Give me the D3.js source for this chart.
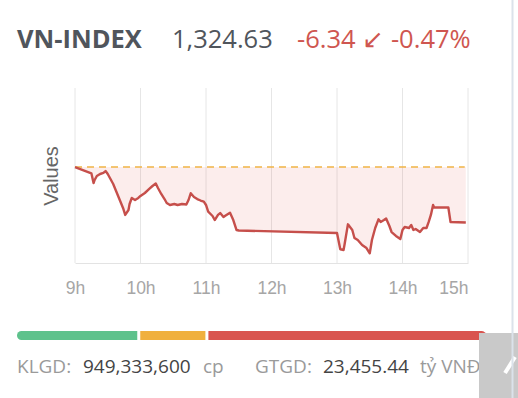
<!DOCTYPE html>
<html><head><meta charset="utf-8">
<script src="https://cdn.jsdelivr.net/npm/d3@7"></script>
<style>
html,body{margin:0;padding:0;background:#fff;overflow:hidden;}
svg{display:block;}
</style></head>
<body>
<svg id="c" width="518" height="398"></svg>
<script>
// ---- data ----
const indexName = "VN-INDEX";
const lastValue = 1324.63;
const changeText = "-6.34 \u2199 -0.47%";
const referenceValue = 1330.97;
const times = ["09:00","09:15","09:17","09:18","09:20","09:23","09:26","09:28","09:30","09:32","09:35","09:38","09:41","09:44","09:46","09:49","09:50","09:52","09:55","09:58","10:00","10:04","10:08","10:11","10:14","10:16","10:19","10:22","10:24","10:27","10:31","10:34","10:38","10:42","10:44","10:46","10:49","10:52","10:55","10:58","11:00","11:02","11:06","11:08","11:11","11:13","11:16","11:18","11:22","11:25","11:28","11:30","13:00","13:03","13:06","13:07","13:10","13:14","13:16","13:19","13:23","13:27","13:30","13:32","13:35","13:38","13:40","13:43","13:45","13:48","13:50","13:54","13:58","14:00","14:02","14:06","14:08","14:10","14:12","14:16","14:19","14:22","14:24","14:26","14:28","14:29","14:42","14:44","14:58"];
const values = [1330.97,1330.25,1329.14,1329.49,1329.94,1330.17,1330.29,1330.51,1330.17,1329.71,1329.03,1328.11,1327.20,1326.29,1325.49,1326.06,1326.74,1327.43,1327.20,1327.43,1327.66,1328.00,1328.46,1328.80,1329.09,1328.57,1327.89,1327.31,1326.86,1326.63,1326.74,1326.63,1326.74,1326.69,1327.20,1327.97,1327.54,1327.31,1327.14,1327.01,1326.63,1325.86,1325.37,1324.91,1325.49,1325.71,1325.26,1325.43,1325.75,1324.91,1323.77,1323.71,1323.43,1321.57,1321.49,1322.17,1324.42,1323.77,1322.86,1322.63,1322.06,1321.71,1321.11,1322.63,1324.00,1324.99,1324.69,1324.91,1325.09,1324.23,1323.54,1323.09,1322.74,1323.77,1324.11,1324.00,1324.34,1323.77,1323.89,1323.54,1324.00,1324.00,1324.69,1325.49,1326.63,1326.34,1326.34,1324.69,1324.63];
const hourTicks = [9,10,11,12,13,14,15];
const yAxisTitle = "Values";
const breadthLabels = ["up","unchanged","down"];
const breadthCounts = [120,65,277];
const volumeLabel = "KLGD:", volumeValue = "949,333,600", volumeUnit = "cp";
const valueLabel = "GTGD:", valueValue = "23,455.44", valueUnit = "t\u1ef7 VN\u0110";

// ---- drawing ----
const svg = d3.select("#c");
const parseT = d3.timeParse("%H:%M");
const data = times.map((t,i)=>({t:parseT(t), v:values[i]}));
const hourDate = h => { const d = parseT("00:00"); d.setHours(h); return d; };

const x = d3.scaleTime().domain([hourDate(9), hourDate(15)]).range([75, 468]);
const y = d3.scaleLinear().domain([1320, 1340]).range([263, 88]);

// header
const head = svg.append("g").attr("font-family","'Open Sans', sans-serif");
head.append("text").attr("x",17).attr("y",48).attr("font-size",25.5).attr("font-weight",700)
  .attr("fill","#50555c").text(indexName);
head.append("text").attr("x",172).attr("y",48).attr("font-size",25.5)
  .attr("fill","#50555c").text(d3.format(",.2f")(lastValue));
head.append("text").attr("x",297).attr("y",48).attr("font-size",25.5)
  .attr("fill","#cf5650").text(changeText);

// gridlines
const grid = svg.append("g");
grid.selectAll("line.g").data(hourTicks).join("line")
  .attr("x1",d=>x(hourDate(d))).attr("x2",d=>x(hourDate(d)))
  .attr("y1",y(1340)).attr("y2",y(1320))
  .attr("stroke","#e6e6e6").attr("stroke-width",1);

// x axis
const xAxis = d3.axisBottom(x).tickValues(hourTicks.map(hourDate))
  .tickSize(0).tickPadding(19).tickFormat(d=>d.getHours()+"h");
const gx = svg.append("g").attr("transform",`translate(0,${y(1320)})`).call(xAxis);
gx.select(".domain").attr("stroke","#e3e3e3").attr("stroke-width",1.2);
gx.selectAll("text").attr("font-family","'Liberation Sans', Arial, sans-serif")
  .attr("font-size",17.5).attr("fill","#a6a6a6");
gx.selectAll(".tick").filter((d,i)=>i===hourTicks.length-1).select("text").attr("text-anchor","end");

// y title
svg.append("text").attr("transform",`translate(58,176) rotate(-90)`)
  .attr("text-anchor","middle").attr("font-family","'Liberation Sans', Arial, sans-serif")
  .attr("font-size",20).attr("fill","#666").text(yAxisTitle);

// area between price and reference
const area = d3.area().x(d=>x(d.t)).y0(y(referenceValue)).y1(d=>y(d.v));
svg.append("path").datum(data).attr("d",area).attr("fill","rgba(225,90,80,0.11)");

// reference dashed line
svg.append("line").attr("x1",x(hourDate(9))).attr("x2",x(d3.timeMinute.offset(hourDate(15),-3)))
  .attr("y1",y(referenceValue)).attr("y2",y(referenceValue))
  .attr("stroke","#f0b445").attr("stroke-width",1.6).attr("stroke-dasharray","7,5");

// price line
const line = d3.line().x(d=>x(d.t)).y(d=>y(d.v));
svg.append("path").datum(data).attr("d",line).attr("fill","none")
  .attr("stroke","#c64f4b").attr("stroke-width",2.4).attr("stroke-linejoin","round");

// breadth bar
const total = d3.sum(breadthCounts);
const gap = 3, bx0 = 17, bx1 = 486, bw = bx1 - bx0 - gap*(breadthCounts.length-1);
const bScale = d3.scaleLinear().domain([0,total]).range([0,bw]);
const cols = ["#5ec28c","#f0b03e","#d9544f"];
svg.append("clipPath").attr("id","bclip").append("rect")
  .attr("x",bx0).attr("y",331).attr("width",bx1-bx0).attr("height",9).attr("rx",4.5);
let acc = bx0;
const segs = breadthCounts.map((c,i)=>{ const s={x:acc,w:bScale(c),c:cols[i]}; acc += bScale(c)+gap; return s; });
svg.append("g").attr("clip-path","url(#bclip)").selectAll("rect").data(segs).join("rect")
  .attr("x",d=>d.x).attr("y",331).attr("width",d=>d.w).attr("height",9).attr("fill",d=>d.c);

// footer
const ft = svg.append("g").attr("font-family","'Open Sans', sans-serif").attr("font-size",19);
const foot = [[17,volumeLabel,"#9a9a9a"],[83,volumeValue,"#444"],[203,volumeUnit,"#9a9a9a"],
  [255,valueLabel,"#9a9a9a"],[323,valueValue,"#444"],[420,valueUnit,"#9a9a9a"]];
ft.selectAll("text").data(foot).join("text").attr("x",d=>d[0]).attr("y",373)
  .attr("fill",d=>d[2]).text(d=>d[1]);

// right-edge decorations
svg.append("rect").attr("x",479).attr("y",333).attr("width",39).attr("height",65).attr("fill","#c9c9c9");
svg.append("line").attr("x1",505).attr("y1",373).attr("x2",515).attr("y2",357)
  .attr("stroke","#fff").attr("stroke-width",4);
svg.append("line").attr("x1",512.5).attr("x2",512.5).attr("y1",0).attr("y2",398)
  .attr("stroke","#dbe2ea").attr("stroke-width",2);
</script>
</body></html>
